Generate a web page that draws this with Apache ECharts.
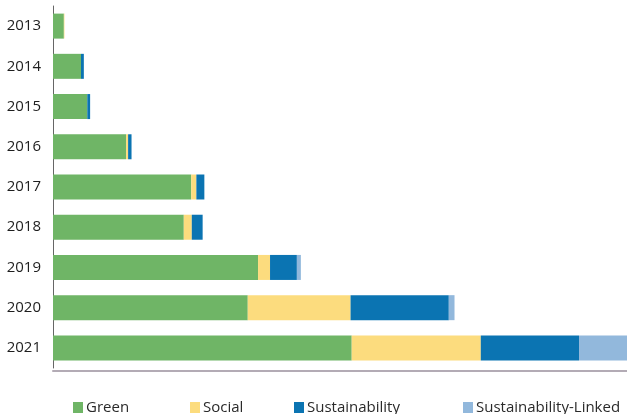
<!DOCTYPE html>
<html>
<head>
<meta charset="utf-8">
<script src="https://cdn.jsdelivr.net/npm/echarts@6/dist/echarts.min.js"></script>
<style>
  html, body { margin: 0; padding: 0; background: #fff; }
  #chart { width: 627px; height: 414px; }
</style>
</head>
<body>
<div id="chart"></div>
<script>
// years, top to bottom
const years = ["2013", "2014", "2015", "2016", "2017", "2018", "2019", "2020", "2021"];
// issuance per label (approx)
const green = [19, 49, 60, 128, 242, 229, 359, 341, 523];
const social = [1, 0, 0, 3.5, 9, 14, 21, 180, 226];
const sustainability = [0, 5, 5, 6, 14, 19, 47, 172, 172];
const sustainabilityLinked = [0, 0, 0, 0, 0, 0, 7, 10, 84];

const colors = ["#6fb566", "#fcdc7e", "#0b74b2", "#92b8dc"];
const names = ["Green", "Social", "Sustainability", "Sustainability-Linked"];
const legendLeft = [68, 185, 289, 458];

let chart = echarts.init(document.getElementById("chart"));

let legends = names.map(function (n, i) {
  return {
    data: [n],
    left: legendLeft[i],
    top: 395,
    itemWidth: 10,
    itemHeight: 11,
    itemGap: 4,
    icon: "rect",
    textStyle: { color: "#2a2a2a", fontSize: 15, fontFamily: "Open Sans", padding: [0, 0, 0, -2] }
  };
});

let option = {
  animation: false,
  backgroundColor: "#fff",
  color: colors,
  legend: legends,
  grid: { left: 53, right: 0, top: 6, bottom: 46 },
  xAxis: {
    type: "value",
    min: 0,
    max: 1005,
    offset: 3,
    axisLabel: { show: false },
    axisTick: { show: false },
    splitLine: { show: false },
    // light baseline just under the last bar
    axisLine: { show: true, lineStyle: { color: "#b3abb5", width: 2 } }
  },
  yAxis: {
    type: "category",
    inverse: true,
    data: years,
    axisTick: { show: false },
    axisLine: { lineStyle: { color: "#666", width: 1 } },
    axisLabel: { color: "#1e1e1e", fontSize: 15, fontFamily: "Open Sans", margin: 12 }
  },
  series: [green, social, sustainability, sustainabilityLinked].map(function (d, i) {
    return {
      name: names[i],
      type: "bar",
      stack: "total",
      barWidth: 25,
      data: d
    };
  })
};

chart.setOption(option);
</script>
</body>
</html>
